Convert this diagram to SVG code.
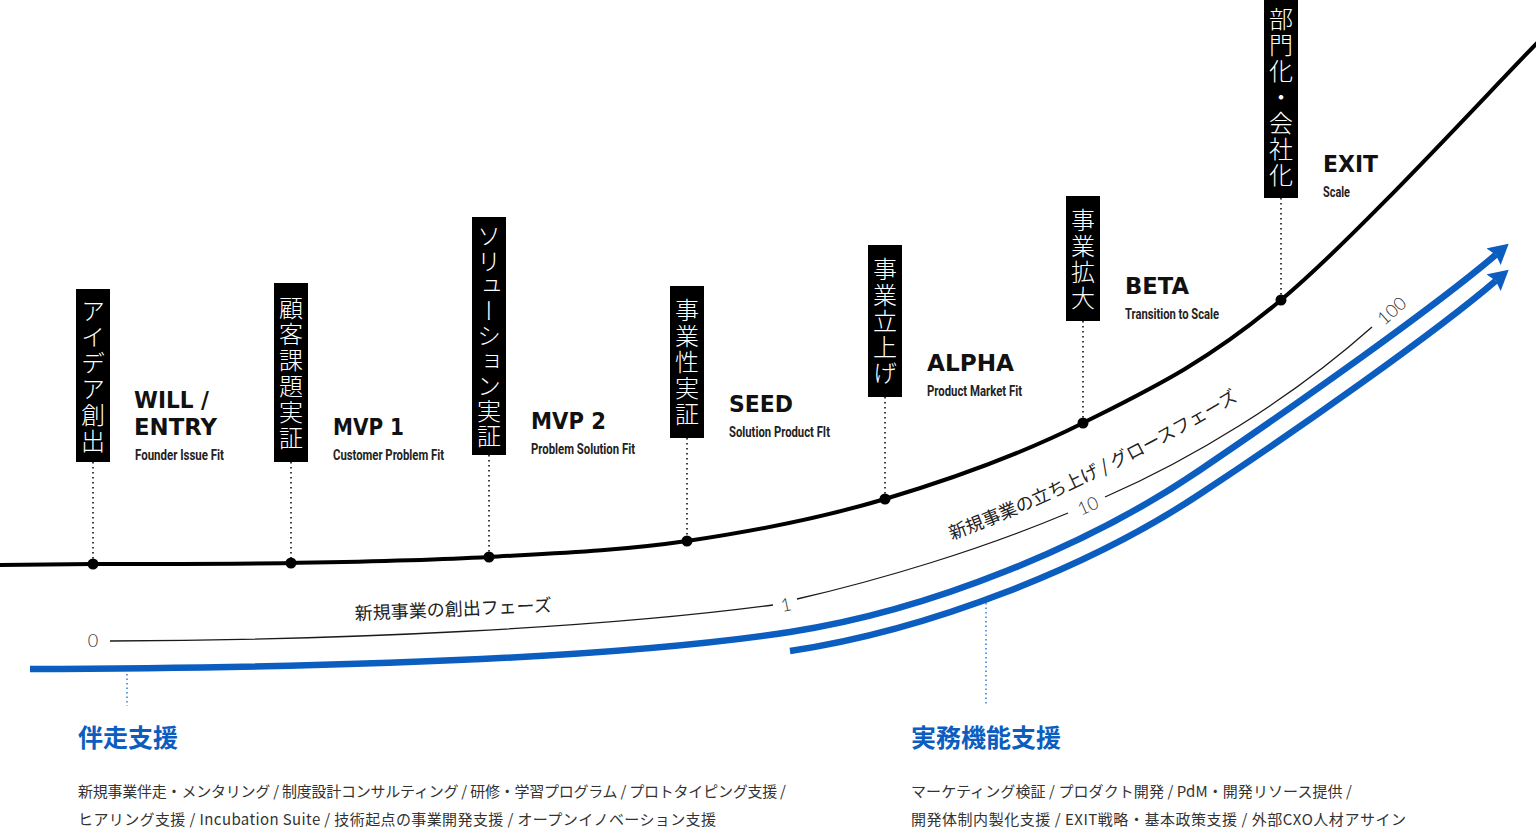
<svg xmlns="http://www.w3.org/2000/svg" width="1536" height="828" viewBox="0 0 1536 828">
<defs>
<style>
.box{fill:#000}
.vt{font-family:"Noto Sans CJK JP","Noto Sans CJK SC",sans-serif;font-size:24px;font-weight:300;fill:#fff;writing-mode:vertical-rl;letter-spacing:2px}
.ttl{font-family:"DejaVu Sans",sans-serif;font-weight:700;font-size:23px;fill:#111}
.sub{font-family:Roboto,"Liberation Sans",sans-serif;font-weight:700;font-size:15px;fill:#222}
.dot{fill:#000}
.lead{stroke:#000;stroke-width:1.5;stroke-dasharray:1.5 3.5;fill:none}
.main{stroke:#000;stroke-width:4;fill:none}
.thin{stroke:#1a1a1a;stroke-width:1.3;fill:none}
.blue{stroke:#0b5dc0;stroke-width:6.5;fill:none}
.bdot{stroke:#2f78d6;stroke-width:1.5;stroke-dasharray:1.5 3;fill:none}
.num{font-family:Lato,"Noto Sans",sans-serif;font-weight:300;font-size:18px;fill:#333}
.jp{font-family:"Noto Sans CJK JP","Noto Sans CJK SC",sans-serif;font-size:18px;fill:#222}
.hd{font-family:"Noto Sans CJK JP","Noto Sans CJK SC",sans-serif;font-size:25px;font-weight:700;fill:#0b5dc0}
.body{font-family:"Noto Sans CJK JP","Noto Sans CJK SC",sans-serif;font-size:15px;fill:#333}
</style>
<marker id="ah" viewBox="0 0 20 22" markerWidth="20" markerHeight="22" refX="3" refY="11" orient="auto" markerUnits="userSpaceOnUse">
<path d="M0,0 L20,11 L0,22 L3,11 z" fill="#0b5dc0"/>
</marker>
<path id="gp" d="M952,540 C1040,507 1150,455 1243,397" fill="none"/>
</defs>
<rect width="1536" height="828" fill="#fff"/>

<g id="connectors">
<path class="main" d="M0,565 C15.5,564.8 44.5,564.3 93,564 C141.5,563.7 225,564.2 291,563 C357,561.8 423,560.7 489,557 C555,553.3 621,550.7 687,541 C753,531.3 819,518.7 885,499 C951,479.3 1017,456.2 1083,423 C1149,389.8 1204.8,363.8 1281,300 C1357.2,236.2 1496.8,83.3 1540,40"/>
<path class="lead" d="M93,462 V564 M291,462 V563 M489,455 V557 M687,438 V541 M885,397 V499 M1083,321 V423 M1281,198 V300"/>
<path class="thin" d="M110,641 C350,640 600,628 773,605"/>
<path class="thin" d="M797,599 C880,580 980,550 1068,513"/>
<path class="thin" d="M1105,497 C1190,460 1290,400 1372,327"/>
<path class="blue" marker-end="url(#ah)" d="M30,669 C330,668 620,658 790,632 C930,610.6 1090,545 1200,470 C1300,402 1436,306 1495.8,254.7"/>
<path class="blue" marker-end="url(#ah)" d="M790,651 C930,630 1090,567 1200,494 C1300,428 1436,332 1495.8,280.7"/>
<path class="bdot" d="M127,674 V706 M986,603 V706"/>
</g>

<g id="scale-labels">
<text class="num" x="93" y="647" text-anchor="middle">0</text>
<text class="num" x="786" y="611" text-anchor="middle" transform="rotate(-12 786 605)">1</text>
<text class="num" x="1088" y="512" text-anchor="middle" transform="rotate(-24 1088 506)">10</text>
<text class="num" x="1392" y="317" text-anchor="middle" transform="rotate(-42 1392 311)">100</text>
<text class="jp" x="355" y="620" transform="rotate(-2.5 355 620)">新規事業の創出フェーズ</text>
<text class="jp"><textPath href="#gp">新規事業の立ち上げ / グロースフェーズ</textPath></text>
</g>

<g id="stage-will">
<rect class="box" x="76" y="289" width="34" height="173"/>
<text class="vt" x="93" y="298.5">アイデア創出</text>
<text class="ttl" x="134" y="408" textLength="75" lengthAdjust="spacingAndGlyphs">WILL /</text>
<text class="ttl" x="134" y="435" textLength="83" lengthAdjust="spacingAndGlyphs">ENTRY</text>
<text class="sub" x="135" y="460" textLength="89" lengthAdjust="spacingAndGlyphs">Founder Issue Fit</text>
<circle class="dot" cx="93" cy="564" r="5.5"/>
</g>

<g id="stage-mvp1">
<rect class="box" x="274" y="283" width="34" height="179"/>
<text class="vt" x="291" y="295.5">顧客課題実証</text>
<text class="ttl" x="333" y="435" textLength="71" lengthAdjust="spacingAndGlyphs">MVP 1</text>
<text class="sub" x="333" y="460" textLength="111" lengthAdjust="spacingAndGlyphs">Customer Problem Fit</text>
<circle class="dot" cx="291" cy="563" r="5.5"/>
</g>

<g id="stage-mvp2">
<rect class="box" x="472" y="217" width="34" height="238"/>
<text class="vt" x="489" y="224" style="letter-spacing:1px">ソリューション実証</text>
<text class="ttl" x="531" y="429" textLength="75" lengthAdjust="spacingAndGlyphs">MVP 2</text>
<text class="sub" x="531" y="454" textLength="104" lengthAdjust="spacingAndGlyphs">Problem Solution Fit</text>
<circle class="dot" cx="489" cy="557" r="5.5"/>
</g>

<g id="stage-seed">
<rect class="box" x="670" y="286" width="34" height="152"/>
<text class="vt" x="687" y="298">事業性実証</text>
<text class="ttl" x="729" y="412" textLength="64" lengthAdjust="spacingAndGlyphs">SEED</text>
<text class="sub" x="729" y="437" textLength="101" lengthAdjust="spacingAndGlyphs">Solution Product FIt</text>
<circle class="dot" cx="687" cy="541" r="5.5"/>
</g>

<g id="stage-alpha">
<rect class="box" x="868" y="245" width="34" height="152"/>
<text class="vt" x="885" y="257">事業立上げ</text>
<text class="ttl" x="927" y="371" textLength="87" lengthAdjust="spacingAndGlyphs">ALPHA</text>
<text class="sub" x="927" y="396" textLength="95" lengthAdjust="spacingAndGlyphs">Product Market Fit</text>
<circle class="dot" cx="885" cy="499" r="5.5"/>
</g>

<g id="stage-beta">
<rect class="box" x="1066" y="196" width="34" height="125"/>
<text class="vt" x="1083" y="207.5">事業拡大</text>
<text class="ttl" x="1125" y="294" textLength="64" lengthAdjust="spacingAndGlyphs">BETA</text>
<text class="sub" x="1125" y="319" textLength="94" lengthAdjust="spacingAndGlyphs">Transition to Scale</text>
<circle class="dot" cx="1083" cy="423" r="5.5"/>
</g>

<g id="stage-exit">
<rect class="box" x="1264" y="-4" width="34" height="202"/>
<text class="vt" x="1281" y="7">部門化・会社化</text>
<text class="ttl" x="1323" y="172" textLength="55" lengthAdjust="spacingAndGlyphs">EXIT</text>
<text class="sub" x="1323" y="197" textLength="27" lengthAdjust="spacingAndGlyphs">Scale</text>
<circle class="dot" cx="1281" cy="300" r="5.5"/>
</g>

<g id="support-hands-on">
<text class="hd" x="78" y="747">伴走支援</text>
<text class="body" x="78" y="797" textLength="708" lengthAdjust="spacing">新規事業伴走・メンタリング / 制度設計コンサルティング / 研修・学習プログラム / プロトタイピング支援 /</text>
<text class="body" x="78" y="825" textLength="638" lengthAdjust="spacing">ヒアリング支援 / Incubation Suite / 技術起点の事業開発支援 / オープンイノベーション支援</text>
</g>

<g id="support-functional">
<text class="hd" x="911" y="747">実務機能支援</text>
<text class="body" x="911" y="797" textLength="441" lengthAdjust="spacing">マーケティング検証 / プロダクト開発 / PdM・開発リソース提供 /</text>
<text class="body" x="911" y="825" textLength="495" lengthAdjust="spacing">開発体制内製化支援 / EXIT戦略・基本政策支援 / 外部CXO人材アサイン</text>
</g>
</svg>
